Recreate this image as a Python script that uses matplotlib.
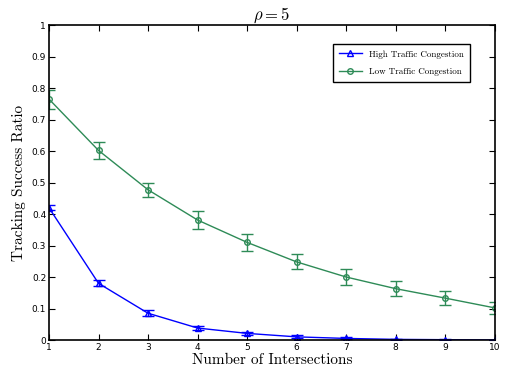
import numpy as np
import matplotlib
matplotlib.use("Agg")
import matplotlib.pyplot as plt

intersections = [1, 2, 3, 4, 5, 6, 7, 8, 9, 10]
high_mean = [0.420, 0.180, 0.085, 0.038, 0.021, 0.010, 0.005, 0.002, 0.001, 0.000]
high_err = [0.008, 0.010, 0.010, 0.007, 0.006, 0.005, 0.003, 0.002, 0.001, 0.001]
low_mean = [0.765, 0.602, 0.477, 0.381, 0.310, 0.248, 0.200, 0.163, 0.133, 0.102]
low_err = [0.030, 0.027, 0.022, 0.029, 0.027, 0.024, 0.026, 0.023, 0.023, 0.018]

plt.rcParams['mathtext.fontset'] = 'cm'
serif = 'cmr10'

fig = plt.figure(figsize=(5.06, 3.74), dpi=100)
ax = fig.add_axes([0.0968, 0.0909, 0.881, 0.842])

blue = '#0000ff'
green = '#2e8b57'

hi = ax.errorbar(intersections, high_mean, yerr=high_err, color=blue, marker='^', ms=4,
                 mfc='none', mew=1, lw=1, capsize=4, elinewidth=1, capthick=1)
lo = ax.errorbar(intersections, low_mean, yerr=low_err, color=green, marker='o', ms=4,
                 mfc='none', mew=1, lw=1, capsize=4, elinewidth=1, capthick=1)

ax.set_xlim(1, 10)
ax.set_ylim(0, 1)
ax.set_xticks(intersections)
ax.set_yticks(np.arange(0, 1.01, 0.1))
ax.set_yticklabels(['0', '0.1', '0.2', '0.3', '0.4', '0.5', '0.6', '0.7', '0.8', '0.9', '1'])
ax.tick_params(direction='in', top=True, right=True, labelsize=6.5, length=4, pad=2)
for lab in ax.get_xticklabels() + ax.get_yticklabels():
    lab.set_family('DejaVu Sans')
for s in ax.spines.values():
    s.set_linewidth(1.2)

ax.set_title(r'$\rho = 5$', fontsize=12, pad=4)
ax.set_xlabel('Number of Intersections', family=serif, fontsize=11, labelpad=1)
ax.set_ylabel('Tracking Success Ratio', family=serif, fontsize=11, labelpad=4)

leg = ax.legend([hi[0], lo[0]], ['High Traffic Congestion', 'Low Traffic Congestion'],
                loc='upper right', bbox_to_anchor=(0.955, 0.955),
                prop={'family': serif, 'size': 6.5},
                fancybox=False, edgecolor='black', framealpha=1, handlelength=2.5,
                borderpad=0.7, labelspacing=1.0)
leg.get_frame().set_linewidth(1)

fig.savefig('out.png', dpi=100)
